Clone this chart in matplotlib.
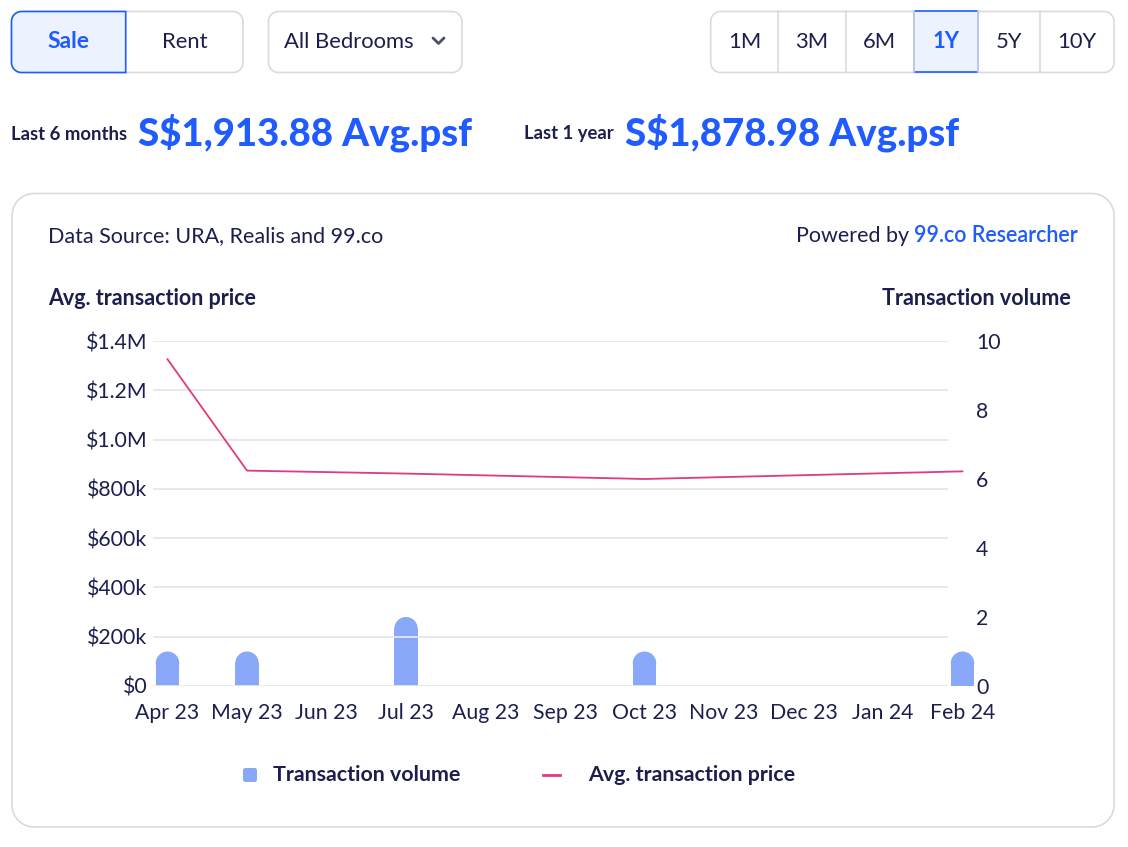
import numpy as np
import matplotlib
matplotlib.use('Agg')
import matplotlib.pyplot as plt
from matplotlib.patches import Polygon, Rectangle, Ellipse
from matplotlib.ticker import FuncFormatter

plt.rcParams['font.family'] = ['Lato', 'DejaVu Sans']

# chart data
months = ['Apr 23', 'May 23', 'Jun 23', 'Jul 23', 'Aug 23', 'Sep 23',
          'Oct 23', 'Nov 23', 'Dec 23', 'Jan 24', 'Feb 24']
volume_months = ['Apr 23', 'May 23', 'Jul 23', 'Oct 23', 'Feb 24']
volume = [1, 1, 2, 1, 1]
price_months = ['Apr 23', 'May 23', 'Jul 23', 'Oct 23', 'Feb 24']
price = [1326000, 874000, 862000, 840000, 871000]
price_ticks = [0, 200000, 400000, 600000, 800000, 1000000, 1200000, 1400000]
volume_ticks = [0, 2, 4, 6, 8, 10]

# header texts
periods = ['1M', '3M', '6M', '1Y', '5Y', '10Y']
last_6m = 'S$1,913.88 Avg.psf'
last_1y = 'S$1,878.98 Avg.psf'

NAVY = '#1c1f4d'
BLUE = '#1f5bff'
GRID = '#e6e6ee'
BORDER = '#d9d9e3'
SEL_BG = '#ecf3ff'
BAR = '#89a8fa'
LINE = '#e03a80'

W, H = 1128, 847
fig = plt.figure(figsize=(W / 100, H / 100), dpi=100)

# full-figure axes in pixel units for the page furniture
ui = fig.add_axes([0, 0, 1, 1], zorder=0)
ui.set_xlim(0, W)
ui.set_ylim(H, 0)
ui.axis('off')


def rrect(x0, y0, x1, y1, radii, **kw):
    # radii: top-left, top-right, bottom-right, bottom-left
    tl, tr, br, bl = radii
    pts = []
    for (cx, cy, r, a0) in [(x0 + tl, y0 + tl, tl, 180), (x1 - tr, y0 + tr, tr, 270),
                            (x1 - br, y1 - br, br, 0), (x0 + bl, y1 - bl, bl, 90)]:
        t = np.radians(np.linspace(a0, a0 + 90, 16))
        pts += list(zip(cx + r * np.cos(t), cy + r * np.sin(t)))
    p = Polygon(pts, closed=True, **kw)
    ui.add_patch(p)
    return p


BTN = 15.8

# Sale / Rent toggle
rrect(11.5, 11.5, 243, 72.5, (10, 10, 10, 10), fc='white', ec=BORDER, lw=1.2)
rrect(11.5, 11.5, 125.7, 72.5, (10, 0, 0, 10), fc=SEL_BG, ec=BLUE, lw=1.2)
ui.text(68.5, 41.5, 'Sale', ha='center', va='center', fontsize=16.5, color=BLUE, weight='bold')
ui.text(184.5, 41.5, 'Rent', ha='center', va='center', fontsize=BTN, color=NAVY)

# bedrooms dropdown
rrect(268.5, 11.5, 462, 72.5, (10, 10, 10, 10), fc='white', ec=BORDER, lw=1.2)
ui.text(284, 41.5, 'All Bedrooms', ha='left', va='center', fontsize=BTN, color=NAVY)
ui.plot([433, 438.5, 444], [38, 43.5, 38], color='#4b4f6e', lw=2, solid_capstyle='round',
        solid_joinstyle='round')

# period selector
edges = [710.7, 778, 845.7, 914, 977.7, 1040.3, 1114]
rrect(edges[0], 11.5, edges[-1], 72.5, (10, 10, 10, 10), fc='white', ec=BORDER, lw=1.2)
for e in edges[1:-1]:
    ui.plot([e, e], [11.5, 72.5], color=BORDER, lw=1.2)
sel = periods.index('1Y')
ui.add_patch(Rectangle((edges[sel], 11.5), edges[sel + 1] - edges[sel], 61,
                       fc=SEL_BG, ec=BLUE, lw=1.2))
for i, p in enumerate(periods):
    cx = (edges[i] + edges[i + 1]) / 2
    if i == sel:
        ui.text(cx, 41.5, p, ha='center', va='center', fontsize=BTN, color=BLUE, weight='bold')
    else:
        ui.text(cx, 41.5, p, ha='center', va='center', fontsize=BTN, color=NAVY)

# averages row
ui.text(11, 139.5, 'Last 6 months', ha='left', va='baseline', fontsize=13.3, color=NAVY, weight='bold')
ui.text(138, 145, last_6m, ha='left', va='baseline', fontsize=27.6, color=BLUE, weight='black')
ui.text(524, 139.5, 'Last 1 year', ha='left', va='baseline', fontsize=13.3, color=NAVY, weight='bold')
ui.text(625, 145, last_1y, ha='left', va='baseline', fontsize=27.6, color=BLUE, weight='black')

# card
rrect(12, 193.5, 1114, 827, (22, 22, 22, 22), fc='white', ec=BORDER, lw=1.2)
ui.text(48, 242.5, 'Data Source: URA, Realis and 99.co', ha='left', va='baseline',
        fontsize=15.5, color=NAVY)
t_blue = ui.text(1078, 242.5, '99.co Researcher', ha='right', va='baseline',
                 fontsize=15.5, color=BLUE, weight='semibold')
fig.canvas.draw()
bb = t_blue.get_window_extent()
x_left = ui.transData.inverted().transform((bb.x0, bb.y0))[0]
ui.text(x_left, 242.5, 'Powered by ', ha='right', va='baseline', fontsize=15.5, color=NAVY)
ui.text(48, 305, 'Avg. transaction price', ha='left', va='baseline', fontsize=15.5,
        color=NAVY, weight='bold')
ui.text(1071, 305, 'Transaction volume', ha='right', va='baseline', fontsize=15.5,
        color=NAVY, weight='bold')

# chart axes: pixel box 153..970 x 341..686, gridlines stop at 948
X0, X1, XG, YT, YB = 153, 970, 948, 341, 686
STEP, FIRST = 79.5, 167.5
ax = fig.add_axes([X0 / W, 1 - YB / H, (X1 - X0) / W, (YB - YT) / H], zorder=2)
ax2 = ax.twinx()
ax.set_zorder(3)
ax.patch.set_visible(False)
ax2.set_zorder(2)
ax2.patch.set_visible(False)

xlo, xhi, xgrid = (X0 - FIRST) / STEP, (X1 - FIRST) / STEP, (XG - FIRST) / STEP

# gridlines
ax.hlines(price_ticks, xlo, xgrid, color=GRID, lw=1.3, zorder=0)

# volume bars with round tops
vx = [months.index(m) for m in volume_months]
bar_w = 23.5 / STEP
r_y = (bar_w / 2) * STEP * 10 / (YB - YT)
ax2.bar(vx, [v - r_y for v in volume], width=bar_w, color=BAR, lw=0, clip_on=False, zorder=2)
for x, v in zip(vx, volume):
    ax2.add_patch(Ellipse((x, v - r_y), bar_w, 2 * r_y, fc=BAR, lw=0, clip_on=False, zorder=2))

# price line
px = [months.index(m) for m in price_months]
ax.plot(px, price, color=LINE, lw=1.3, clip_on=False, zorder=4)

ax.set_yticks(price_ticks)
ax.yaxis.set_major_formatter(FuncFormatter(
    lambda v, _: '$0' if v == 0 else ('$%.1fM' % (v / 1e6) if v >= 1e6 else '$%dk' % (v / 1e3))))
ax.set_xticks(range(len(months)))
ax.set_xticklabels(months)
ax.tick_params(axis='both', length=0, labelsize=15.3, labelcolor=NAVY)
ax.tick_params(axis='y', pad=4)
ax.tick_params(axis='x', pad=12)
ax2.set_yticks(volume_ticks)
ax2.tick_params(axis='y', length=0, labelsize=15.3, labelcolor=NAVY, pad=4.5)
for a in (ax, ax2):
    for s in a.spines.values():
        s.set_visible(False)

ax.set_xlim(xlo, xhi)
ax.set_ylim(0, 1400000)
ax2.set_ylim(0, 10)

# legend
rrect(243, 768, 257, 782, (2.5, 2.5, 2.5, 2.5), fc=BAR, ec='none')
ui.text(273, 775, 'Transaction volume', ha='left', va='center', fontsize=15.4,
        color=NAVY, weight='bold')
ui.plot([543, 560], [775, 775], color=LINE, lw=2)
ui.text(588, 775, 'Avg. transaction price', ha='left', va='center', fontsize=15.4,
        color=NAVY, weight='bold')

fig.savefig('out.png', dpi=100, facecolor='white')
